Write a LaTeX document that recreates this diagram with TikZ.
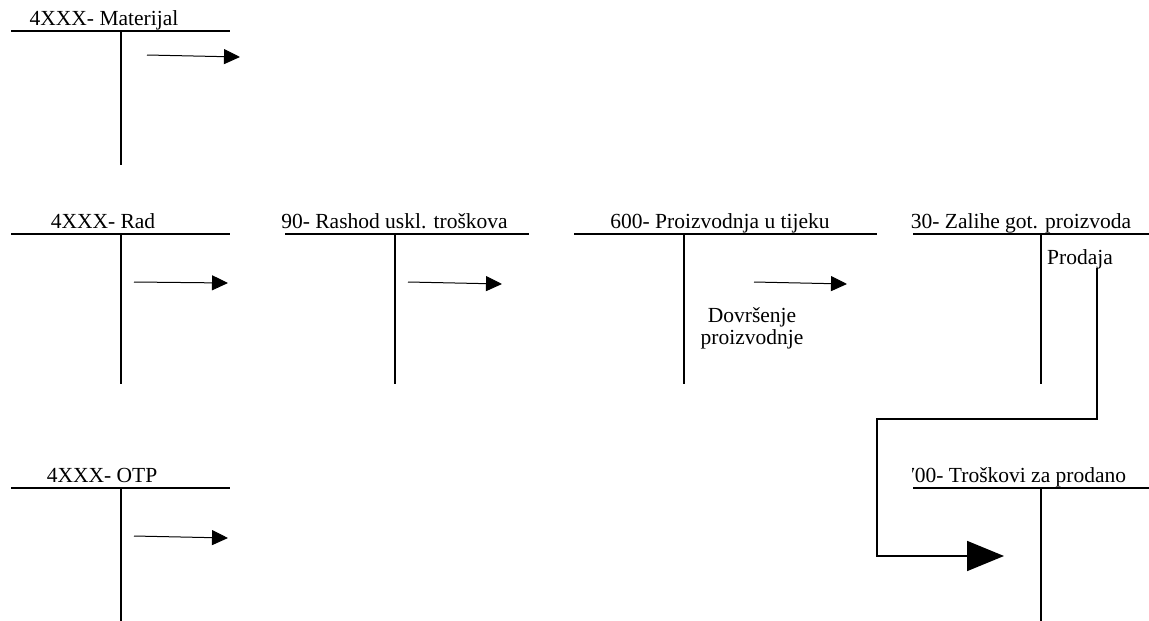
\documentclass[tikz,border=0pt]{standalone}
\usepackage{fontspec}
\setmainfont{Liberation Serif}
\usetikzlibrary{arrows.meta}
\begin{document}
\begin{tikzpicture}[x=1pt,y=-1pt,
  acct/.style={line width=1.7pt},
  ttl/.style={anchor=base, inner sep=0pt, font=\fontsize{21.5}{22}\selectfont},
  lbl/.style={inner sep=0pt, font=\fontsize{21.5}{22}\selectfont, align=center},
  flow/.style={line width=1pt, -{Triangle[length=16pt,width=15pt]}},
  bigflow/.style={line width=1.7pt, -{Triangle[length=37pt,width=30pt]}}]
\useasboundingbox (0,0) rectangle (1149,621);

% 4XXX- Materijal
\coordinate (m-l) at (11,31); \coordinate (m-r) at (230,31);
\coordinate (m-t) at (121,31); \coordinate (m-b) at (121,165);
\draw[acct] (m-l) -- (m-r);
\draw[acct] (m-t) -- (m-b);
\node[ttl] (m-title) at (104,25) {4XXX- Materijal};
\coordinate (m-a1) at (147,55); \coordinate (m-a2) at (240,57);
\draw[flow] (m-a1) -- (m-a2);

% 4XXX- Rad
\coordinate (r-l) at (11,234); \coordinate (r-r) at (230,234);
\coordinate (r-t) at (121,234); \coordinate (r-b) at (121,384);
\draw[acct] (r-l) -- (r-r);
\draw[acct] (r-t) -- (r-b);
\node[ttl] (r-title) at (103,228) {4XXX- Rad};
\coordinate (r-a1) at (134,282); \coordinate (r-a2) at (228,283);
\draw[flow] (r-a1) -- (r-a2);

% 90- Rashod uskl. troskova
\coordinate (u-l) at (285,234); \coordinate (u-r) at (529,234);
\coordinate (u-t) at (395,234); \coordinate (u-b) at (395,384);
\draw[acct] (u-l) -- (u-r);
\draw[acct] (u-t) -- (u-b);
\node[ttl] (u-title) at (394.5,228) {90- Rashod uskl. troškova};
\coordinate (u-a1) at (408,282); \coordinate (u-a2) at (502,284);
\draw[flow] (u-a1) -- (u-a2);

% 600- Proizvodnja u tijeku
\coordinate (p-l) at (574,234); \coordinate (p-r) at (877,234);
\coordinate (p-t) at (684,234); \coordinate (p-b) at (684,384);
\draw[acct] (p-l) -- (p-r);
\draw[acct] (p-t) -- (p-b);
\node[ttl] (p-title) at (720,228) {600- Proizvodnja u tijeku};
\coordinate (p-a1) at (754,282); \coordinate (p-a2) at (847,284);
\draw[flow] (p-a1) -- (p-a2);
\node[lbl, anchor=north] (p-lbl) at (752,307) {Dovršenje\\proizvodnje};

% 30- Zalihe got. proizvoda
\coordinate (z-l) at (913,234); \coordinate (z-r) at (1149,234);
\coordinate (z-t) at (1041,234); \coordinate (z-b) at (1041,384);
\draw[acct] (z-l) -- (z-r);
\draw[acct] (z-t) -- (z-b);
\node[ttl] (z-title) at (1021,228) {30- Zalihe got. proizvoda};
\node[ttl] (z-lbl) at (1080,264) {Prodaja};

% 700- Troskovi za prodano
\coordinate (k-l) at (913,488); \coordinate (k-r) at (1149,488);
\coordinate (k-t) at (1041,488); \coordinate (k-b) at (1041,621);
\draw[acct] (k-l) -- (k-r);
\draw[acct] (k-t) -- (k-b);
\begin{scope}
\clip (912,430) rectangle (1149,500);
\node[ttl, anchor=base west] (k-title) at (904,482) {700- Troškovi za prodano};
\end{scope}

% 4XXX- OTP
\coordinate (o-l) at (11,488); \coordinate (o-r) at (230,488);
\coordinate (o-t) at (121,488); \coordinate (o-b) at (121,621);
\draw[acct] (o-l) -- (o-r);
\draw[acct] (o-t) -- (o-b);
\node[ttl] (o-title) at (102,482) {4XXX- OTP};
\coordinate (o-a1) at (134,536); \coordinate (o-a2) at (228,538);
\draw[flow] (o-a1) -- (o-a2);

% Prodaja -> 700
\coordinate (c0) at (1097,268);
\coordinate (c1) at (877,419);
\coordinate (c2) at (1004,556);
\draw[bigflow] (c0) |- (c1) |- (c2);
\end{tikzpicture}
\end{document}
